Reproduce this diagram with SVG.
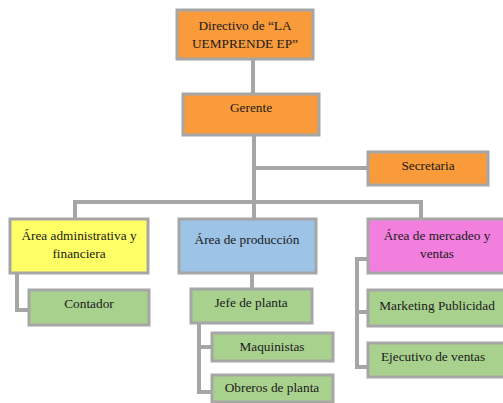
<svg xmlns="http://www.w3.org/2000/svg" width="503" height="403" viewBox="0 0 503 403">
<style>
.b{stroke:#A6A6A6;stroke-width:3}
.or{fill:#F99B3A}.ye{fill:#FFFF66}.bl{fill:#9DC3E6}.pk{fill:#F27FDD}.gr{fill:#A9D18E}
text{font-family:"Liberation Serif","Times New Roman",serif;font-size:13.3px;fill:#1a1a1a;text-anchor:middle}
.c{fill:none;stroke:#A6A6A6;stroke-width:4}
</style>
<rect width="503" height="403" fill="#fff"/>
<g id="connectors" class="c">
<path d="M253 59V94"/>
<path d="M254 135V218"/>
<path d="M254 168H368"/>
<path d="M75 218V202H421V218"/>
<path d="M17 273V310H29"/>
<path d="M252 273V289"/>
<path d="M199 323V392H212M199 347H212"/>
<path d="M368 259H357V367H368M357 312H368"/>
</g>
<g id="n1"><rect class="b or" x="177" y="10" width="136" height="49"/><text x="245" y="30">Directivo de “LA</text><text x="245" y="48">UEMPRENDE EP”</text></g>
<g id="n2"><rect class="b or" x="183" y="94" width="136" height="41"/><text x="251" y="112">Gerente</text></g>
<g id="n3"><rect class="b or" x="368" y="152" width="120" height="33"/><text x="428" y="170">Secretaria</text></g>
<g id="n4"><rect class="b ye" x="10" y="219" width="138" height="54"/><text x="79" y="240">Área administrativa y</text><text x="79" y="258">financiera</text></g>
<g id="n5"><rect class="b bl" x="179" y="219" width="137" height="54"/><text x="247" y="244">Área de producción</text></g>
<g id="n6"><rect class="b pk" x="368" y="219" width="138" height="54"/><text x="437" y="240">Área de mercadeo y</text><text x="437" y="258">ventas</text></g>
<g id="n7"><rect class="b gr" x="29" y="290" width="120" height="35"/><text x="89" y="308">Contador</text></g>
<g id="n8"><rect class="b gr" x="191" y="289" width="121" height="34"/><text x="251" y="307">Jefe de planta</text></g>
<g id="n9"><rect class="b gr" x="212" y="333" width="121" height="28"/><text x="272" y="351">Maquinistas</text></g>
<g id="n10"><rect class="b gr" x="212" y="375" width="121" height="27"/><text x="272" y="392">Obreros de planta</text></g>
<g id="n11"><rect class="b gr" x="368" y="290" width="138" height="36"/><text x="437" y="310">Marketing Publicidad</text></g>
<g id="n12"><rect class="b gr" x="368" y="343" width="138" height="34"/><text x="433" y="361">Ejecutivo de ventas</text></g>
</svg>
